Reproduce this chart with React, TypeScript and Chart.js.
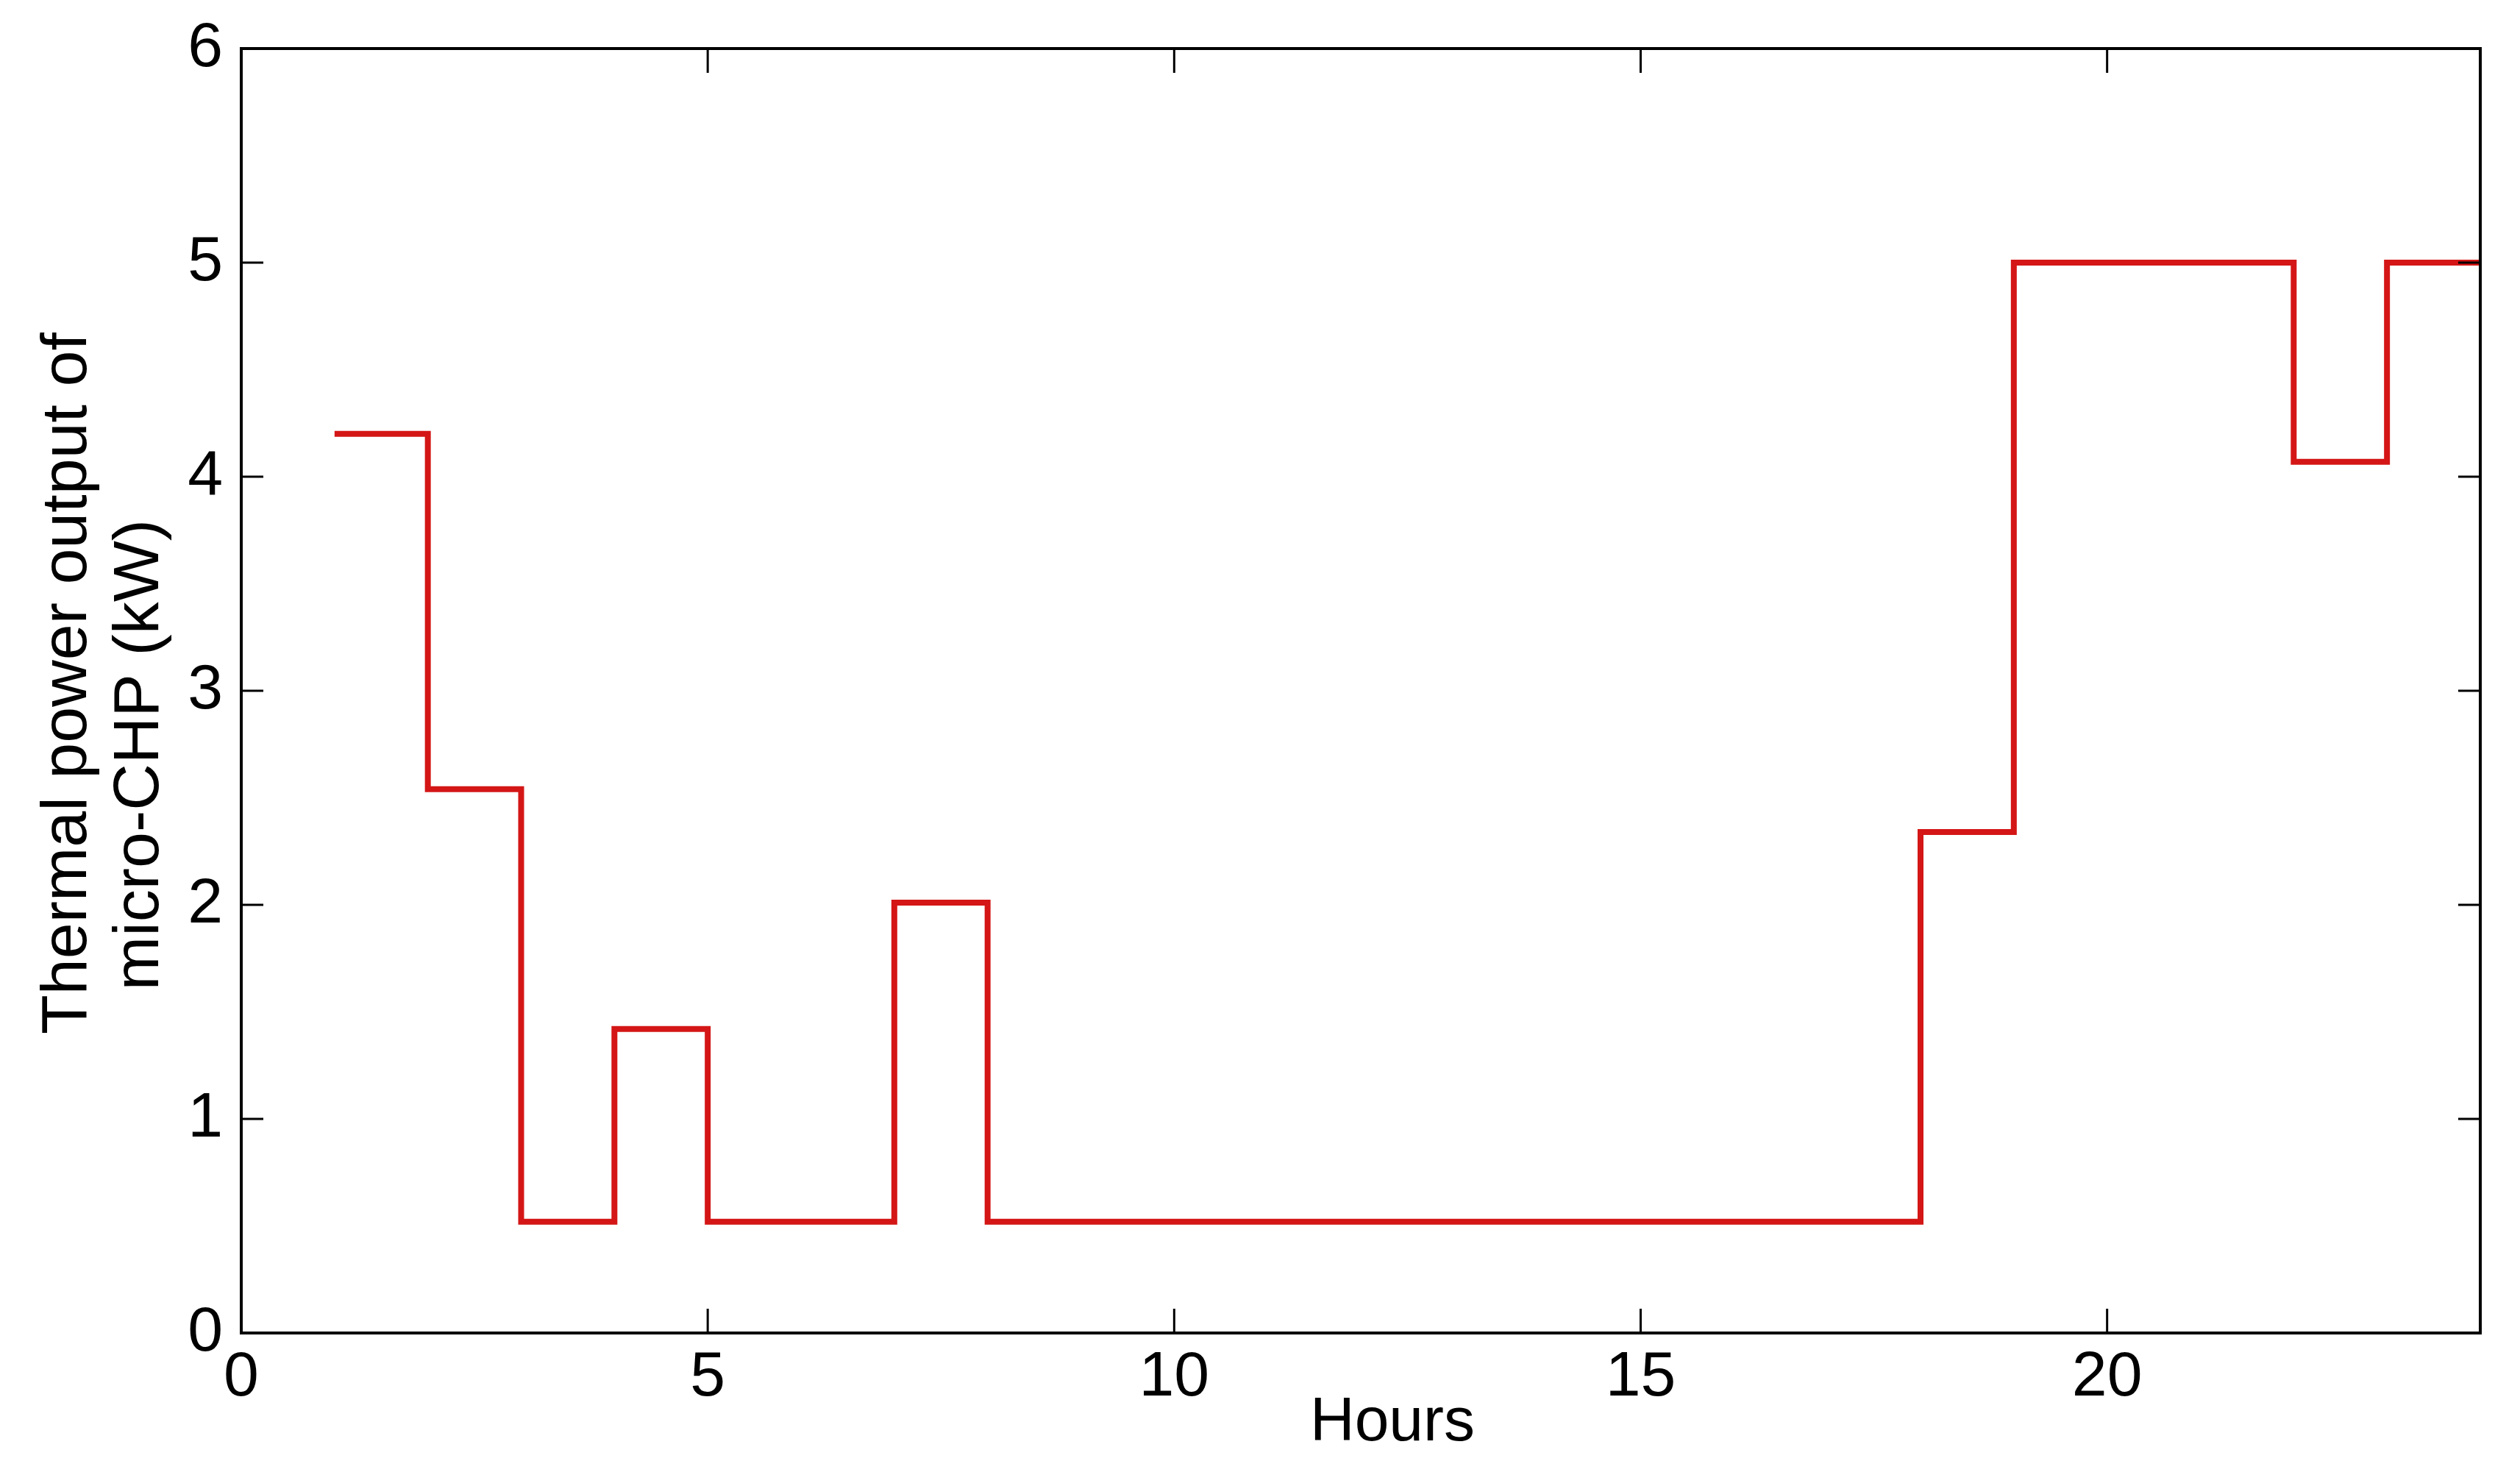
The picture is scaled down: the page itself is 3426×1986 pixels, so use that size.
import React, { useEffect, useRef } from "react";
import { Chart, registerables } from "chart.js";

Chart.register(...registerables);

// ---- data ----
const hours = [1, 2, 3, 4, 5, 6, 7, 8, 9, 10, 11, 12, 13, 14, 15, 16, 17, 18, 19, 20, 21, 22, 23, 24];
const thermalOutputKW = [
  4.2, 2.54, 0.52, 1.42, 0.52, 0.52, 2.01, 0.52, 0.52, 0.52, 0.52, 0.52,
  0.52, 0.52, 0.52, 0.52, 0.52, 2.34, 5.0, 5.0, 5.0, 4.07, 5.0, 5.0,
];
const xTickValues = [0, 5, 10, 15, 20];
const yTickValues = [0, 1, 2, 3, 4, 5, 6];
const xTitle = "Hours";
const yTitleLines = ["Thermal power output of", "micro-CHP (kW)"];

const FONT = '"Liberation Sans", Arial, Helvetica, sans-serif';

const framePlugin = {
  id: "matlabFrame",
  afterDraw(chart: any) {
    const { ctx, chartArea: a, scales } = chart;
    ctx.save();
    ctx.strokeStyle = "#000";
    ctx.lineWidth = 3;
    ctx.beginPath();
    for (const v of yTickValues) {
      const y = scales.y.getPixelForValue(v);
      ctx.moveTo(a.left, y);
      ctx.lineTo(a.left + 30, y);
      ctx.moveTo(a.right, y);
      ctx.lineTo(a.right - 30, y);
    }
    for (const v of xTickValues) {
      const x = scales.x.getPixelForValue(v);
      ctx.moveTo(x, a.bottom);
      ctx.lineTo(x, a.bottom - 33);
      ctx.moveTo(x, a.top);
      ctx.lineTo(x, a.top + 33);
    }
    ctx.stroke();
    ctx.lineWidth = 4;
    ctx.strokeRect(a.left, a.top, a.right - a.left, a.bottom - a.top);

    ctx.fillStyle = "#000";
    ctx.textAlign = "center";
    ctx.textBaseline = "alphabetic";
    ctx.font = `84px ${FONT}`;
    ctx.fillText(xTitle, (a.left + a.right) / 2 + 43, a.bottom + 146);

    ctx.font = `88px ${FONT}`;
    const cy = (a.top + a.bottom) / 2;
    const lines = [
      { text: yTitleLines[0], x: a.left - 211, y: cy - 10 },
      { text: yTitleLines[1], x: a.left - 113, y: cy + 87 },
    ];
    for (const l of lines) {
      ctx.save();
      ctx.translate(l.x, l.y);
      ctx.rotate(-Math.PI / 2);
      ctx.fillText(l.text, 0, 0);
      ctx.restore();
    }
    ctx.restore();
  },
};

export default function App() {
  const canvasRef = useRef<HTMLCanvasElement | null>(null);

  useEffect(() => {
    document.body.style.margin = "0";
    document.body.style.overflow = "hidden";
    const canvas = canvasRef.current;
    if (!canvas) return;
    const points = hours.map((h, i) => ({ x: h, y: thermalOutputKW[i] }));
    const chart = new Chart(canvas, {
      type: "line",
      data: {
        datasets: [
          {
            data: points,
            borderColor: "#d41616",
            borderWidth: 8,
            stepped: "before",
            pointRadius: 0,
            fill: false,
            borderCapStyle: "butt",
            borderJoinStyle: "miter",
          },
        ],
      },
      options: {
        animation: false,
        responsive: false,
        devicePixelRatio: 1,
        layout: { padding: { top: 66, right: 54, left: 0, bottom: 0 } },
        plugins: {
          legend: { display: false },
          tooltip: { enabled: false },
          title: { display: false },
        },
        scales: {
          x: {
            type: "linear",
            min: 0,
            max: 24,
            grid: { display: false, drawTicks: false },
            border: { display: false },
            ticks: {
              stepSize: 5,
              includeBounds: false,
              maxRotation: 0,
              autoSkip: false,
              padding: 10,
              color: "#000",
              font: { family: FONT, size: 86, lineHeight: 1.2 },
            },
            afterFit: (s: any) => {
              s.height = 174;
              s.paddingLeft = 0;
              s.paddingRight = 0;
            },
          },
          y: {
            type: "linear",
            min: 0,
            max: 6,
            grid: { display: false, drawTicks: false },
            border: { display: false },
            ticks: {
              stepSize: 1,
              padding: 25,
              color: "#000",
              font: { family: FONT, size: 86, lineHeight: 1.2 },
            },
            afterFit: (s: any) => {
              s.width = 328;
              s.paddingTop = 0;
              s.paddingBottom = 0;
            },
          },
        },
      },
      plugins: [framePlugin],
    });
    return () => chart.destroy();
  }, []);

  return (
    <div style={{ width: 3426, height: 1986, background: "#fff" }}>
      <canvas ref={canvasRef} width={3426} height={1986} style={{ display: "block" }} />
    </div>
  );
}
